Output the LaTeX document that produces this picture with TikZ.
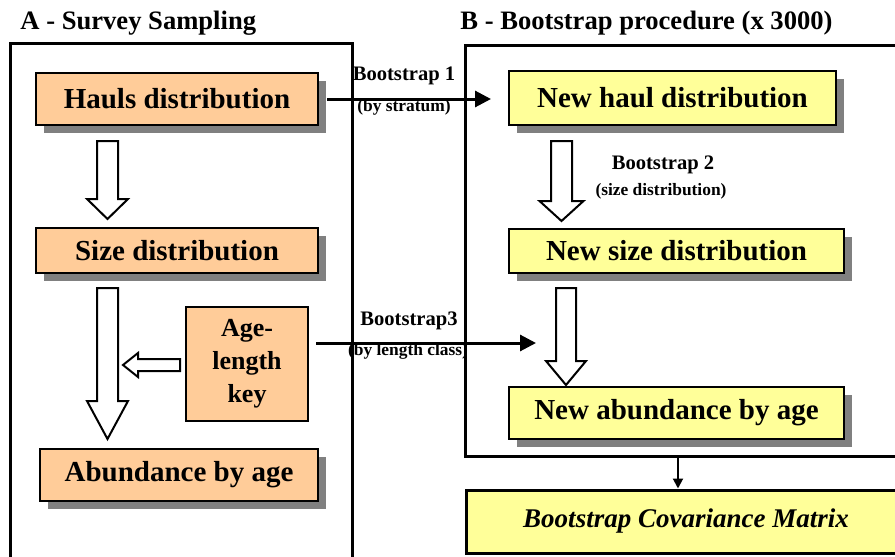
\documentclass[tikz,border=0pt]{standalone}
\usepackage{fontspec}
\setmainfont{Liberation Serif}
\usetikzlibrary{arrows.meta,shadows}

\definecolor{peach}{HTML}{FFCC99}
\definecolor{paleyellow}{HTML}{FFFF99}
\definecolor{shadowgray}{HTML}{808080}

% hollow block arrow pointing down: x centre, shaft half width, head half width, top, head start, tip
\newcommand{\hollowdown}[6]{%
  \draw[hollow] (#1-#2,#4) -- (#1+#2,#4) -- (#1+#2,#5) -- (#1+#3,#5) -- (#1,#6)
    -- (#1-#3,#5) -- (#1-#2,#5) -- cycle;}

\begin{document}
\begin{tikzpicture}[x=0.5pt, y=-0.5pt, line join=miter,
    >={Triangle[length=8pt,width=8pt]},
    box/.style={draw, line width=1pt, inner sep=0pt, align=center,
      font=\fontsize{14.5}{17}\selectfont\bfseries},
    shadowed/.style={drop shadow={shadow xshift=4pt, shadow yshift=-4pt,
      fill=shadowgray, opacity=1}},
    samplebox/.style={box, fill=peach},
    bootbox/.style={box, fill=paleyellow, shadowed},
    hollow/.style={draw, fill=white, line width=1pt},
    frame/.style={line width=1.5pt},
    boot/.style={line width=1.5pt, ->},
    titletext/.style={inner sep=0pt, font=\fontsize{13.3}{16}\selectfont\bfseries},
    bootlabel/.style={inner sep=0pt, font=\fontsize{10.3}{12}\selectfont\bfseries},
    bootsub/.style={inner sep=0pt, font=\fontsize{8.7}{10}\selectfont\bfseries}]
  \clip (0,0) rectangle (895,557);

  % titles and frames
  \node[titletext, anchor=base west] (titleA) at (20,29) {A - Survey Sampling};
  \node[titletext, anchor=base west] (titleB) at (460,29) {B - Bootstrap procedure (x 3000)};
  \draw[frame] (10,565) -- (10,43) -- (352,43) -- (352,565);
  \draw[frame] (905,45) -- (465,45) -- (465,456) -- (905,456);

  % A - survey sampling
  \node[samplebox, shadowed, minimum width=141pt, minimum height=26pt] (hauls) at (177,99) {Hauls distribution};
  \node[samplebox, shadowed, minimum width=141pt, minimum height=22.5pt] (size) at (177,250.5) {Size distribution};
  \node[samplebox, minimum width=61pt, minimum height=57pt,
    font=\fontsize{13}{16.5}\selectfont\bfseries] (agekey) at (247,364) {Age-\\length\\key};
  \node[samplebox, shadowed, minimum width=139pt, minimum height=26pt] (abund) at (179,475) {Abundance by age};

  \hollowdown{107.5}{10.5}{20.5}{141}{199}{219}
  \hollowdown{107.5}{10.5}{20.5}{288}{401}{439}
  \draw[hollow] (180,359) -- (138,359) -- (138,353) -- (123,365) -- (138,377) -- (138,371) -- (180,371) -- cycle;

  % B - bootstrap procedure
  \node[bootbox, minimum width=163.5pt, minimum height=27pt] (newhaul) at (672.5,98) {New haul distribution};
  \node[bootbox, minimum width=167.5pt, minimum height=22pt] (newsize) at (676.5,251) {New size distribution};
  \node[bootbox, minimum width=167.5pt, minimum height=26pt] (newabund) at (676.5,413) {New abundance by age};

  \hollowdown{561.5}{10.5}{22}{141}{201}{221}
  \hollowdown{566}{10}{20}{288}{361}{385}

  % bootstrap connectors
  \draw[boot] ([xshift=4pt]hauls.east) -- ([xshift=-8.5pt]newhaul.west |- hauls.east);
  \node[bootlabel] (bootone) at (404,76) {Bootstrap 1};
  \node[bootsub] (bootonesub) at (404,107) {(by stratum)};

  \node[bootlabel] (boottwo) at (663,165) {Bootstrap 2};
  \node[bootsub] (boottwosub) at (661,191) {(size distribution)};

  \coordinate (bootthreetip) at (536,343);
  \draw[boot] ([xshift=3.5pt,yshift=10.5pt]agekey.east) -- (bootthreetip);
  \node[bootlabel] (bootthree) at (409,321) {Bootstrap3};
  \node[bootsub] (bootthreesub) at (408,351) {(by length class)};

  % covariance
  \node[box, fill=paleyellow, line width=1.5pt, minimum width=220pt, minimum height=31.5pt,
    font=\fontsize{13.5}{16}\selectfont\bfseries\itshape] (cov) at (686,521.5) {Bootstrap Covariance Matrix};
  \coordinate (frameBbottom) at (678,456);
  \draw[line width=1pt, -{Triangle[length=5pt,width=5pt]}] (frameBbottom) -- (frameBbottom |- cov.north);
\end{tikzpicture}
\end{document}
